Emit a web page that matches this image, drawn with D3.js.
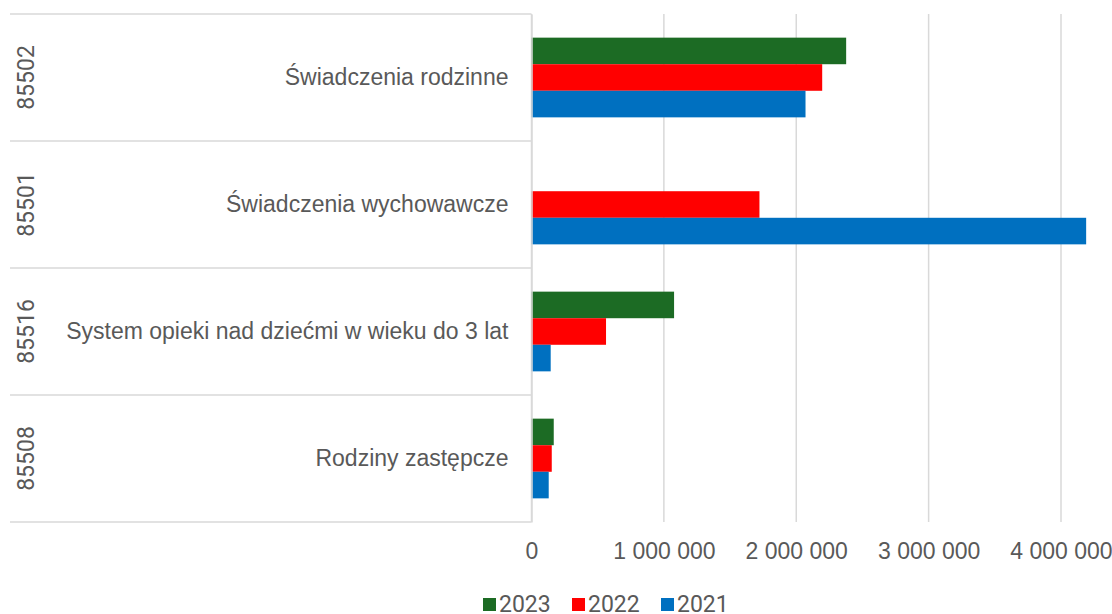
<!DOCTYPE html>
<html>
<head>
<meta charset="utf-8">
<script src="https://cdn.jsdelivr.net/npm/d3@7"></script>
<style>
  html, body { margin: 0; padding: 0; background: #fff; }
  svg { display: block; font-family: Roboto, "Noto Sans", sans-serif; }
</style>
</head>
<body>
<svg id="chart" width="1112" height="614"></svg>
<script>
const codes = ["85502", "85501", "85516", "85508"];
const categories = ["Świadczenia rodzinne", "Świadczenia wychowawcze", "System opieki nad dziećmi w wieku do 3 lat", "Rodziny zastępcze"];
const seriesNames = ["2023", "2022", "2021"];
const values2023 = [2377000, 0, 1077000, 168000];
const values2022 = [2196000, 1722000, 563000, 153000];
const values2021 = [2070000, 4190000, 145000, 130000];
const seriesColors = ["#1c6b24", "#ff0000", "#0070c0"];
const xTicks = [0, 1000000, 2000000, 3000000, 4000000];

const seriesValues = [values2023, values2022, values2021];
const svg = d3.select("#chart");
const textColor = "#595959";
const lineColor = "#d9d9d9";
const fontSize = 23;

const plotLeft = 531.5, plotTop = 14, plotBottom = 522;
const x = d3.scaleLinear().domain([0, 4000000]).range([plotLeft, 1061]);
const y = d3.scaleBand().domain(categories).range([plotTop, plotBottom]).paddingInner(0).paddingOuter(0);
const inner = d3.scaleBand().domain(seriesNames).range([0, y.bandwidth()]).paddingOuter(0.89).paddingInner(0);

// gridlines
svg.append("g").selectAll("line").data(xTicks).join("line")
  .attr("x1", d => x(d)).attr("x2", d => x(d))
  .attr("y1", plotTop).attr("y2", plotBottom)
  .attr("stroke", lineColor).attr("stroke-width", 1.5);

// category separators (multi-level axis)
const seps = categories.map(c => y(c)).concat([plotBottom]);
svg.append("g").selectAll("line").data(seps).join("line")
  .attr("x1", 10).attr("x2", plotLeft)
  .attr("y1", d => d).attr("y2", d => d)
  .attr("stroke", lineColor).attr("stroke-width", 1.5);

// bars
const groups = svg.append("g").selectAll("g").data(seriesNames).join("g")
  .attr("fill", (d, i) => seriesColors[i]);
groups.selectAll("rect").data((s, i) => categories.map((c, j) => ({c, s, v: seriesValues[i][j]})))
  .join("rect")
  .attr("x", x(0))
  .attr("y", d => y(d.c) + inner(d.s))
  .attr("width", d => x(d.v) - x(0))
  .attr("height", inner.bandwidth());

// x axis
const xAxis = svg.append("g").attr("transform", `translate(0,${plotBottom})`)
  .call(d3.axisBottom(x).tickValues(xTicks).tickFormat(d => d3.format(",")(d).replace(/,/g, " ")).tickSize(0).tickPadding(21));
xAxis.select(".domain").remove();
xAxis.selectAll("text").attr("fill", textColor).attr("font-size", fontSize);

// y axis (category labels)
const yAxis = svg.append("g").attr("transform", `translate(${plotLeft},0)`)
  .call(d3.axisLeft(y).tickSize(0).tickPadding(23));
yAxis.select(".domain").attr("stroke", lineColor).attr("stroke-width", 1.5);
yAxis.selectAll("text").attr("fill", textColor).attr("font-size", fontSize);

// codes rotated
svg.append("g").selectAll("text").data(codes).join("text")
  .attr("transform", (d, i) => `translate(34,${y(categories[i]) + y.bandwidth() / 2}) rotate(-90)`)
  .attr("text-anchor", "middle")
  .attr("fill", textColor).attr("font-size", fontSize)
  .text(d => d);

// legend
const legendX = [483, 572, 661];
const legend = svg.append("g").selectAll("g").data(seriesNames).join("g")
  .attr("transform", (d, i) => `translate(${legendX[i]},598)`);
legend.append("rect").attr("x", 0).attr("y", 0).attr("width", 13).attr("height", 13)
  .attr("fill", (d, i) => seriesColors[i]);
legend.append("text").attr("x", 16).attr("y", 14).attr("fill", textColor).attr("font-size", fontSize).text(d => d);
</script>
</body>
</html>
